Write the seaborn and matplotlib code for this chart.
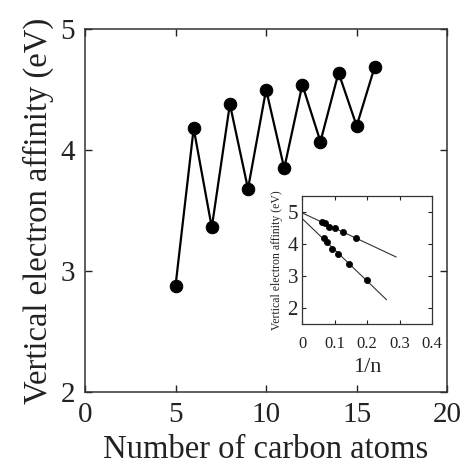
import numpy as np
import pandas as pd
import matplotlib
matplotlib.use("Agg")
import matplotlib.pyplot as plt
import seaborn as sns

# Data
n_atoms = [5, 6, 7, 8, 9, 10, 11, 12, 13, 14, 15, 16]
vea = [2.88, 4.18, 3.36, 4.38, 3.68, 4.50, 3.85, 4.54, 4.07, 4.64, 4.20, 4.69]

x_ticks = [0, 5, 10, 15, 20]
y_ticks = [2, 3, 4, 5]
inset_x_ticks = [0, 0.1, 0.2, 0.3, 0.4]
inset_x_labels = ["0", "0.1", "0.2", "0.3", "0.4"]
inset_y_ticks = [2, 3, 4, 5]
fit_end_even = 0.29
fit_end_odd = 0.26

sns.set_style("ticks")
plt.rcParams['font.family'] = ['Liberation Serif', 'DejaVu Serif']

df = pd.DataFrame({"n": n_atoms, "vea": vea})
df["inv_n"] = 1.0 / df["n"]
df["parity"] = np.where(df["n"] % 2 == 0, "even", "odd")

fig = plt.figure(figsize=(4.62, 4.70), dpi=100)
ax = fig.add_axes([0.184, 0.166, 0.784, 0.772])

sns.lineplot(data=df, x="n", y="vea", ax=ax, color="black", linewidth=1.6,
             marker="o", markersize=9, markeredgecolor="black",
             markerfacecolor="black")
ax.set_xlim(0, 20)
ax.set_ylim(2, 5)
ax.set_xticks(x_ticks)
ax.set_yticks(y_ticks)
ax.set_xticklabels([str(t) for t in x_ticks])
ax.set_yticklabels([str(t) for t in y_ticks])
ax.tick_params(direction="in", length=5, width=1, top=True, right=True,
               labelsize=21, colors="#222222", pad=7)
ax.set_xlabel("Number of carbon atoms", fontsize=23.5, labelpad=5, color="#222222")
ax.set_ylabel("Vertical electron affinity (eV)", fontsize=23.5, labelpad=5, color="#222222")
for s in ax.spines.values():
    s.set_visible(True)
    s.set_linewidth(1.1)
    s.set_color("#333333")

# Inset
axi = fig.add_axes([0.654, 0.311, 0.281, 0.272])
for par, xend in (("even", fit_end_even), ("odd", fit_end_odd)):
    sub = df[df["parity"] == par]
    slope, icpt = np.polyfit(sub["inv_n"], sub["vea"], 1)
    xs = np.array([0.0, xend])
    axi.plot(xs, icpt + slope * xs, color="#333333", linewidth=0.8)
sns.scatterplot(data=df, x="inv_n", y="vea", ax=axi, color="black", s=20,
                edgecolor="black", linewidth=0.5, legend=False, zorder=3)
axi.set_xlim(0, 0.4)
axi.set_ylim(1.5, 5.5)
axi.set_xticks(inset_x_ticks)
axi.set_xticklabels(inset_x_labels)
axi.set_yticks(inset_y_ticks)
axi.set_yticklabels([str(t) for t in inset_y_ticks])
axi.tick_params(direction="in", length=3, width=0.8, top=True, right=True,
                colors="#222222")
axi.tick_params(axis="x", labelsize=12, pad=9)
axi.tick_params(axis="y", labelsize=15, pad=3)
axi.set_xlabel("1/n", fontsize=16, labelpad=4, color="#222222")
axi.set_ylabel("Vertical electron affinity (eV)", fontsize=8.5, labelpad=3, color="#222222")
for s in axi.spines.values():
    s.set_visible(True)
    s.set_linewidth(0.9)
    s.set_color("#333333")

fig.savefig("out.png", dpi=100)
